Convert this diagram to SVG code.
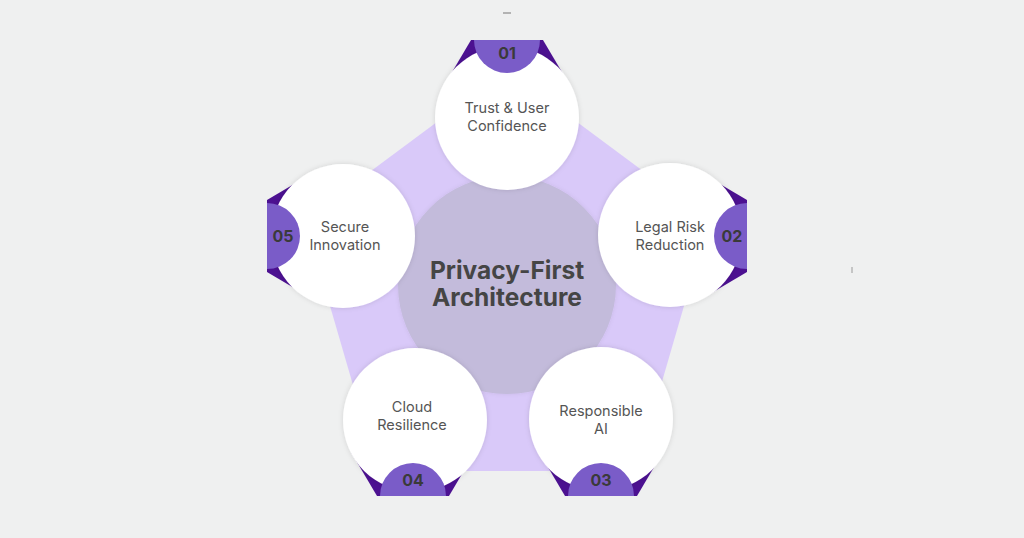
<svg xmlns="http://www.w3.org/2000/svg" width="1024" height="538" viewBox="0 0 1024 538">
<defs>
<style>
.bg{fill:#eff0f0}
.pent{fill:#d9c9f9}
.core{fill:#c3bbdb}
.disc{fill:#ffffff;filter:url(#sh)}
.fold{fill:#4c1191}
.tab{fill:#7a5cc8}
.lbl{font-family:Inter,"Noto Sans","Liberation Sans",sans-serif;font-size:14.5px;fill:#555555;text-anchor:middle}
.num{font-family:Inter,"Noto Sans","Liberation Sans",sans-serif;font-size:16px;font-weight:700;fill:#3a3a3a;text-anchor:middle}
.title{font-family:Inter,"Noto Sans","Liberation Sans",sans-serif;font-size:24.5px;font-weight:700;fill:#454545;text-anchor:middle}
</style>
<filter id="sh" x="-20%" y="-20%" width="140%" height="140%">
<feDropShadow dx="0" dy="0" stdDeviation="2.5" flood-color="#000" flood-opacity="0.13"/>
</filter>
<filter id="sh2" x="-20%" y="-20%" width="140%" height="140%">
<feDropShadow dx="0" dy="0" stdDeviation="2" flood-color="#000" flood-opacity="0.08"/>
</filter>
<polygon id="foldShape" points="-36,0 36,0 62,44 -62,44"/>
<path id="tabShape" d="M -33 0 A 33 33 0 0 0 33 0 Z"/>
</defs>
<rect class="bg" x="0" y="0" width="1024" height="538"/>
<line x1="503" y1="13" x2="511" y2="13" stroke="#8a8a8a" stroke-width="1.2"/>
<line x1="852" y1="267" x2="852" y2="273" stroke="#9a9a9a" stroke-width="1"/>
<g id="connectors">
<polygon class="pent" points="507,70 709,220 636,471 378,471 305,220"/>
</g>
<g id="core">
<circle class="core" cx="507" cy="285" r="109" style="filter:url(#sh2)"/>
<text class="title" x="507" y="278.5">Privacy-First</text>
<text class="title" x="507" y="305.5">Architecture</text>
</g>
<g id="node01">
<use href="#foldShape" class="fold" transform="translate(507,40)"/>
<circle class="disc" cx="507" cy="118" r="72"/>
<use href="#tabShape" class="tab" transform="translate(507,40)"/>
<text class="num" x="507" y="59">01</text>
<text class="lbl" x="507" y="113">Trust &amp; User</text>
<text class="lbl" x="507" y="131">Confidence</text>
</g>
<g id="node02">
<use href="#foldShape" class="fold" transform="translate(747,236) rotate(90)"/>
<circle class="disc" cx="670" cy="235" r="72"/>
<use href="#tabShape" class="tab" transform="translate(747,236) rotate(90)"/>
<text class="num" x="732" y="242">02</text>
<text class="lbl" x="670" y="232">Legal Risk</text>
<text class="lbl" x="670" y="250">Reduction</text>
</g>
<g id="node03">
<use href="#foldShape" class="fold" transform="translate(601,496) rotate(180)"/>
<circle class="disc" cx="601" cy="419" r="72"/>
<use href="#tabShape" class="tab" transform="translate(601,496) rotate(180)"/>
<text class="num" x="601" y="486">03</text>
<text class="lbl" x="601" y="416">Responsible</text>
<text class="lbl" x="601" y="434">AI</text>
</g>
<g id="node04">
<use href="#foldShape" class="fold" transform="translate(413,496) rotate(180)"/>
<circle class="disc" cx="415" cy="420" r="72"/>
<use href="#tabShape" class="tab" transform="translate(413,496) rotate(180)"/>
<text class="num" x="413" y="486">04</text>
<text class="lbl" x="412" y="412">Cloud</text>
<text class="lbl" x="412" y="430">Resilience</text>
</g>
<g id="node05">
<use href="#foldShape" class="fold" transform="translate(267,236) rotate(-90)"/>
<circle class="disc" cx="343" cy="236" r="72"/>
<use href="#tabShape" class="tab" transform="translate(267,236) rotate(-90)"/>
<text class="num" x="283" y="242">05</text>
<text class="lbl" x="345" y="232">Secure</text>
<text class="lbl" x="345" y="250">Innovation</text>
</g>
</svg>
